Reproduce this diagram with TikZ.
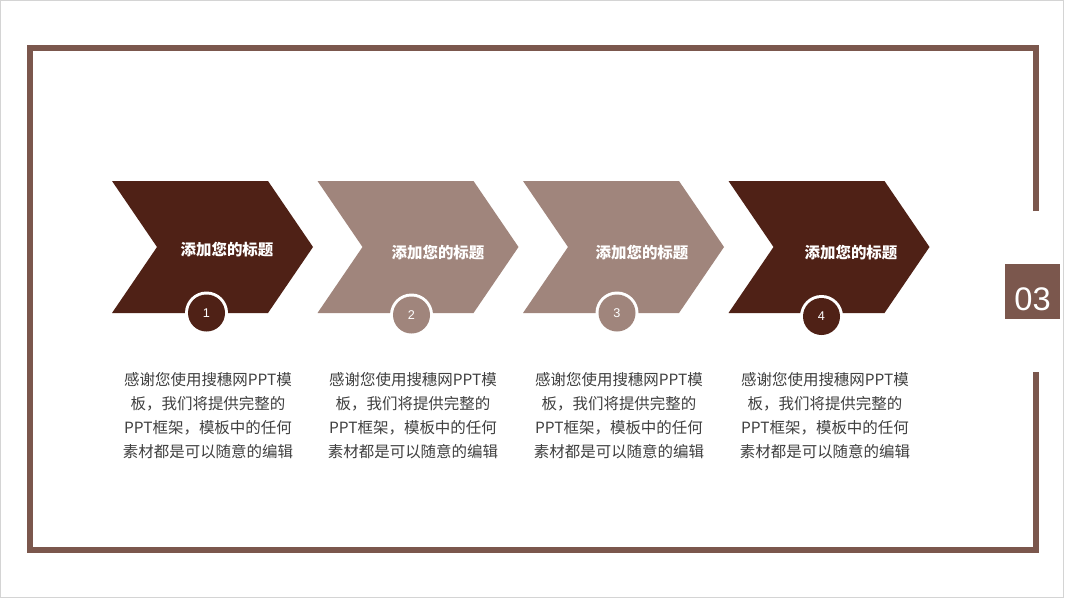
\documentclass[tikz,border=0pt]{standalone}
\usepackage{fontspec}
\newfontfamily\cjk{Noto Sans CJK SC}
\newfontfamily\numfont{Liberation Sans}
\definecolor{darkbr}{HTML}{4F2116}
\definecolor{lightbr}{HTML}{A0857C}
\definecolor{framebr}{HTML}{7B574D}
\definecolor{bodygray}{HTML}{404040}
\definecolor{pagegray}{HTML}{D4D4D4}
\tikzset{
  titletext/.style={text=white, font=\cjk\fontsize{11.6pt}{14pt}\selectfont\bfseries, inner sep=0pt},
  bodytext/.style={text=bodygray, font=\cjk\fontsize{11.6pt}{18pt}\selectfont, align=center, inner sep=0pt},
  numtext/.style={text=white, font=\numfont\fontsize{9.5pt}{11pt}\selectfont, inner sep=0pt},
  ring/.style={circle, fill=white, minimum size=32.25pt, inner sep=0pt},
  dot/.style={circle, minimum size=27.75pt, inner sep=0pt},
}
\begin{document}
\begin{tikzpicture}[x=0.75pt,y=-0.75pt]
\useasboundingbox (0,0) rectangle (1067,600);
\fill[white] (0,0) rectangle (1067,600);
\draw[pagegray, line width=0.75pt] (0.5,0.5) rectangle (1063.5,597.5);
% frame
\draw[framebr, line width=4.7pt, line join=miter] (1036,211) -- (1036,48) -- (30,48) -- (30,550) -- (1036,550) -- (1036,372);
% 03 box
\fill[framebr] (1005,264) rectangle (1060,319);
\node (n03) [text=white, font=\numfont\fontsize{24.5pt}{28pt}\selectfont, inner sep=0pt] at (1032.5,299) {03};
% chevrons
\foreach \x/\c in {112/darkbr,317.5/lightbr,523/lightbr,728.5/darkbr}{
  \fill[\c] (\x,181) -- ++(156,0) -- ++(45,66) -- ++(-45,66) -- ++(-156,0) -- ++(45,-66) -- cycle;
}
% titles
\node (t1) [titletext] at (227,250) {添加您的标题};
\node (t2) [titletext] at (438,252.5) {添加您的标题};
\node (t3) [titletext] at (642,252.5) {添加您的标题};
\node (t4) [titletext] at (851,252.5) {添加您的标题};
% circles
\node (r1) [ring] at (206.5,313) {};
\node (c1) [dot, fill=darkbr] at (206.5,313) {};
\node (k1) [numtext] at (c1) {1};
\node (r2) [ring] at (411.5,315) {};
\node (c2) [dot, fill=lightbr] at (411.5,315) {};
\node (k2) [numtext] at (c2) {2};
\node (r3) [ring] at (617,313) {};
\node (c3) [dot, fill=lightbr] at (617,313) {};
\node (k3) [numtext] at (c3) {3};
\node (r4) [ring] at (821.5,316.5) {};
\node (c4) [dot, fill=darkbr] at (821.5,316.5) {};
\node (k4) [numtext] at (c4) {4};
% body texts
\foreach \i/\x in {1/208,2/413,3/619,4/825}{
  \node (b\i) [bodytext] at (\x,416) {感谢您使用搜穗网PPT模\\板，我们将提供完整的\\PPT框架，模板中的任何\\素材都是可以随意的编辑};
}
\end{tikzpicture}
\end{document}
